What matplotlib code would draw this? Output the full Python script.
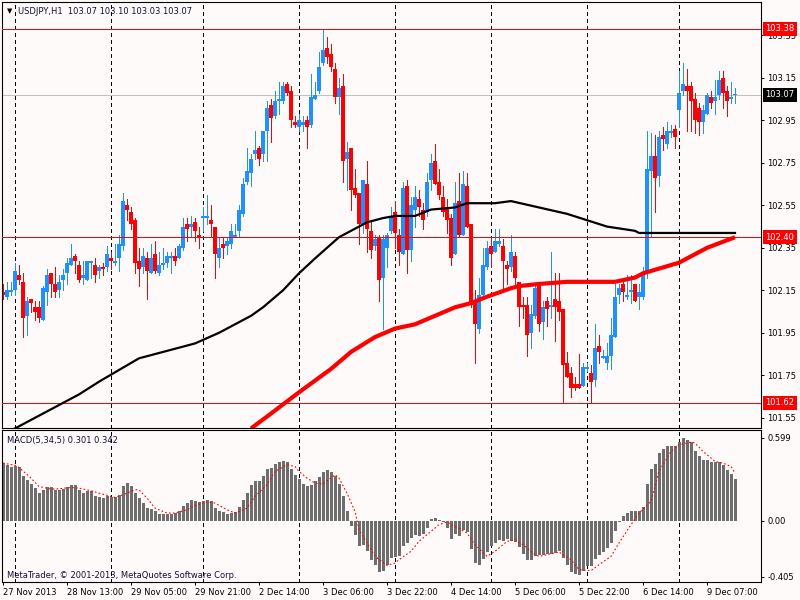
import numpy as np
import matplotlib
matplotlib.use('Agg')
import matplotlib.pyplot as plt

plt.rcParams['font.family'] = ['DejaVu Sans']

# USDJPY H1 candles, bar 0 = 27 Nov 2013 21:00
opens = [102.14, 102.12, 102.14, 102.15, 102.22, 102.19, 102.03, 102.11, 102.07, 102.07,
         102.01, 102.14, 102.23, 102.18, 102.15, 102.20, 102.23, 102.27, 102.31, 102.27,
         102.21, 102.20, 102.28, 102.27, 102.24, 102.26, 102.26, 102.30, 102.28, 102.30,
         102.36, 102.55, 102.52, 102.48, 102.29, 102.26, 102.30, 102.23, 102.32, 102.23,
         102.27, 102.28, 102.30, 102.31, 102.30, 102.35, 102.46, 102.45, 102.47, 102.41,
         102.49, 102.49, 102.48, 102.45, 102.30, 102.37, 102.36, 102.37, 102.40, 102.43,
         102.51, 102.66, 102.70, 102.79, 102.82, 102.79, 102.90, 103.02, 102.97, 103.04,
         103.04, 103.12, 103.09, 102.94, 102.92, 102.93, 102.95, 102.93, 103.05, 103.09,
         103.22, 103.29, 103.26, 103.19, 103.06, 103.11, 102.77, 102.82, 102.63, 102.61,
         102.46, 102.65, 102.43, 102.36, 102.40, 102.21, 102.35, 102.43, 102.52, 102.41,
         102.32, 102.64, 102.34, 102.53, 102.58, 102.53, 102.52, 102.67, 102.76, 102.66,
         102.59, 102.54, 102.49, 102.32, 102.57, 102.41, 102.64, 102.46, 102.10, 101.97,
         102.13, 102.26, 102.36, 102.33, 102.37, 102.36, 102.27, 102.26, 102.31, 102.19,
         102.08, 102.08, 101.95, 102.03, 102.18, 102.00, 102.10, 102.07, 102.11, 102.10,
         102.06, 101.81, 101.76, 101.71, 101.71, 101.70, 101.78, 101.76, 101.73, 101.89,
         101.83, 101.81, 101.84, 101.93, 102.13, 102.18, 102.12, 102.14, 102.18, 102.12,
         102.12, 102.23, 102.71, 102.78, 102.69, 102.88, 102.84, 102.89, 102.91, 103.00,
         103.09, 103.11, 103.11, 103.05, 103.01, 102.94, 102.98, 103.06, 103.04, 103.07,
         103.15, 103.09, 103.05, 103.07]
highs = [102.18, 102.19, 102.19, 102.28, 102.27, 102.23, 102.12, 102.11, 102.10, 102.10,
         102.17, 102.25, 102.23, 102.26, 102.22, 102.25, 102.30, 102.37, 102.32, 102.29,
         102.29, 102.29, 102.29, 102.30, 102.27, 102.28, 102.36, 102.33, 102.37, 102.41,
         102.61, 102.58, 102.54, 102.49, 102.35, 102.35, 102.33, 102.37, 102.38, 102.33,
         102.35, 102.33, 102.33, 102.35, 102.37, 102.49, 102.49, 102.50, 102.49, 102.45,
         102.54, 102.60, 102.55, 102.45, 102.40, 102.40, 102.40, 102.46, 102.46, 102.55,
         102.68, 102.82, 102.79, 102.90, 102.83, 102.90, 103.04, 103.05, 103.09, 103.13,
         103.13, 103.13, 103.11, 102.97, 102.98, 102.97, 102.97, 103.17, 103.13, 103.27,
         103.38, 103.34, 103.31, 103.22, 103.15, 103.17, 102.85, 102.82, 102.72, 102.61,
         102.67, 102.76, 102.48, 102.41, 102.41, 102.41, 102.42, 102.54, 102.57, 102.44,
         102.66, 102.67, 102.59, 102.64, 102.62, 102.56, 102.70, 102.79, 102.84, 102.72,
         102.64, 102.58, 102.51, 102.66, 102.70, 102.71, 102.70, 102.46, 102.15, 102.21,
         102.35, 102.38, 102.40, 102.44, 102.44, 102.39, 102.29, 102.41, 102.33, 102.19,
         102.12, 102.12, 102.08, 102.18, 102.18, 102.10, 102.12, 102.33, 102.23, 102.23,
         102.06, 101.86, 101.79, 101.74, 101.85, 101.81, 101.81, 101.80, 101.99, 101.94,
         101.87, 101.90, 102.02, 102.18, 102.18, 102.21, 102.22, 102.22, 102.18, 102.18,
         102.26, 102.90, 102.89, 102.88, 102.90, 102.92, 102.94, 102.93, 102.93, 103.18,
         103.22, 103.19, 103.13, 103.08, 103.03, 103.02, 103.08, 103.09, 103.14, 103.18,
         103.18, 103.11, 103.13, 103.10]
lows = [102.11, 102.11, 102.13, 102.13, 102.18, 101.93, 101.94, 102.05, 102.01, 102.00,
        102.01, 102.08, 102.12, 102.12, 102.12, 102.15, 102.18, 102.27, 102.23, 102.19,
        102.18, 102.20, 102.21, 102.19, 102.21, 102.22, 102.24, 102.25, 102.27, 102.24,
        102.34, 102.48, 102.44, 102.23, 102.17, 102.23, 102.11, 102.23, 102.23, 102.22,
        102.25, 102.26, 102.23, 102.27, 102.30, 102.34, 102.38, 102.40, 102.38, 102.35,
        102.43, 102.46, 102.40, 102.21, 102.26, 102.30, 102.32, 102.35, 102.40, 102.40,
        102.50, 102.65, 102.64, 102.77, 102.74, 102.76, 102.76, 102.85, 102.96, 102.98,
        103.03, 103.07, 102.92, 102.92, 102.90, 102.90, 102.82, 102.92, 103.05, 103.08,
        103.21, 103.22, 103.18, 103.03, 102.98, 102.66, 102.62, 102.53, 102.59, 102.37,
        102.42, 102.33, 102.30, 102.34, 102.10, 101.97, 102.26, 102.42, 102.35, 102.27,
        102.32, 102.23, 102.29, 102.45, 102.50, 102.44, 102.50, 102.62, 102.65, 102.58,
        102.50, 102.42, 102.27, 102.32, 102.40, 102.41, 102.45, 102.07, 101.81, 101.95,
        102.13, 102.25, 102.26, 102.33, 102.36, 102.16, 102.18, 102.24, 102.18, 101.98,
        102.02, 101.84, 101.88, 102.02, 101.96, 101.92, 101.98, 102.02, 101.91, 102.01,
        101.62, 101.74, 101.65, 101.68, 101.69, 101.70, 101.77, 101.62, 101.70, 101.81,
        101.83, 101.78, 101.78, 101.93, 102.09, 102.10, 102.11, 102.09, 102.10, 102.06,
        102.11, 102.21, 102.40, 102.52, 102.64, 102.81, 102.82, 102.87, 102.82, 102.92,
        103.07, 102.90, 102.90, 102.89, 102.88, 102.89, 102.98, 103.01, 102.98, 103.05,
        103.01, 102.97, 103.03, 103.03]
closes = [102.13, 102.15, 102.15, 102.24, 102.20, 102.02, 102.10, 102.09, 102.05, 102.02,
          102.16, 102.22, 102.18, 102.14, 102.19, 102.22, 102.28, 102.30, 102.29, 102.20,
          102.22, 102.29, 102.29, 102.22, 102.26, 102.25, 102.32, 102.29, 102.29, 102.37,
          102.57, 102.53, 102.46, 102.28, 102.25, 102.31, 102.24, 102.30, 102.24, 102.27,
          102.28, 102.31, 102.31, 102.29, 102.36, 102.45, 102.44, 102.46, 102.43, 102.40,
          102.50, 102.50, 102.46, 102.32, 102.35, 102.35, 102.38, 102.43, 102.41, 102.53,
          102.65, 102.71, 102.77, 102.81, 102.77, 102.90, 103.01, 102.96, 103.04, 103.05,
          103.11, 103.08, 102.95, 102.93, 102.95, 102.94, 102.92, 103.06, 103.07, 103.20,
          103.28, 103.25, 103.20, 103.06, 103.10, 102.76, 102.80, 102.62, 102.60, 102.46,
          102.67, 102.44, 102.34, 102.39, 102.20, 102.39, 102.41, 102.50, 102.42, 102.33,
          102.63, 102.34, 102.55, 102.59, 102.54, 102.48, 102.66, 102.75, 102.65, 102.60,
          102.52, 102.48, 102.30, 102.56, 102.41, 102.65, 102.45, 102.08, 101.99, 102.13,
          102.27, 102.35, 102.32, 102.38, 102.38, 102.29, 102.25, 102.33, 102.21, 102.07,
          102.07, 101.94, 102.04, 102.16, 101.99, 102.07, 102.06, 102.08, 102.07, 102.05,
          101.80, 101.74, 101.69, 101.69, 101.69, 101.79, 101.79, 101.72, 101.88, 101.86,
          101.84, 101.84, 101.94, 102.12, 102.16, 102.14, 102.13, 102.15, 102.10, 102.14,
          102.23, 102.72, 102.78, 102.68, 102.87, 102.86, 102.90, 102.90, 102.87, 103.08,
          103.12, 103.09, 103.04, 102.95, 102.94, 103.00, 103.07, 103.03, 103.06, 103.14,
          103.08, 103.04, 103.06, 103.07]

# moving averages (bar index, price)
ma_black_bars = [0, 3, 15, 19, 24, 34, 40, 48, 54, 59, 62, 65, 70, 74, 78, 84, 87, 91, 95,
                 98, 103, 107, 113, 116, 123, 127, 134, 141, 146, 151, 158, 159, 180, 183]
ma_black = [101.47, 101.50, 101.62, 101.66, 101.72, 101.83, 101.86, 101.90, 101.95, 102.00,
            102.03, 102.07, 102.15, 102.23, 102.30, 102.40, 102.43, 102.47, 102.49, 102.50,
            102.50, 102.53, 102.54, 102.56, 102.56, 102.57, 102.54, 102.51, 102.48, 102.45,
            102.43, 102.42, 102.42, 102.42]
ma_red_bars = [62, 67, 74, 82, 87, 93, 98, 103, 108, 113, 117, 121, 127, 129, 134, 141,
               149, 153, 158, 160, 169, 176, 183]
ma_red = [101.50, 101.57, 101.67, 101.78, 101.86, 101.93, 101.97, 101.99, 102.03, 102.07,
          102.09, 102.12, 102.16, 102.17, 102.18, 102.19, 102.19, 102.19, 102.21, 102.23,
          102.28, 102.35, 102.40]

# MACD(5,34,5) histogram and signal
macd = [0.416, 0.404, 0.387, 0.391, 0.384, 0.324, 0.295, 0.264, 0.235, 0.199,
        0.223, 0.240, 0.240, 0.223, 0.223, 0.230, 0.240, 0.254, 0.254, 0.223,
        0.199, 0.211, 0.211, 0.175, 0.168, 0.163, 0.175, 0.168, 0.168, 0.187,
        0.247, 0.271, 0.247, 0.199, 0.163, 0.127, 0.091, 0.086, 0.067, 0.048,
        0.048, 0.048, 0.048, 0.055, 0.072, 0.108, 0.127, 0.147, 0.144, 0.135,
        0.139, 0.152, 0.144, 0.091, 0.072, 0.063, 0.048, 0.055, 0.063, 0.099,
        0.152, 0.199, 0.254, 0.288, 0.288, 0.324, 0.372, 0.379, 0.408, 0.420,
        0.432, 0.423, 0.375, 0.331, 0.302, 0.264, 0.247, 0.259, 0.283, 0.314,
        0.350, 0.362, 0.350, 0.324, 0.264, 0.175, 0.072, -0.036, -0.101, -0.185,
        -0.178, -0.221, -0.286, -0.317, -0.372, -0.360, -0.317, -0.269, -0.264, -0.257,
        -0.185, -0.161, -0.125, -0.106, -0.113, -0.096, -0.053, 0.014, 0.019, 0.005,
        -0.010, -0.053, -0.130, -0.096, -0.113, -0.065, -0.082, -0.202, -0.305, -0.317,
        -0.277, -0.226, -0.185, -0.161, -0.137, -0.149, -0.130, -0.144, -0.154, -0.192,
        -0.238, -0.286, -0.286, -0.257, -0.250, -0.245, -0.240, -0.238, -0.233, -0.221,
        -0.269, -0.317, -0.370, -0.385, -0.394, -0.365, -0.329, -0.329, -0.274, -0.245,
        -0.226, -0.197, -0.161, -0.077, -0.010, 0.036, 0.055, 0.072, 0.067, 0.067,
        0.099, 0.264, 0.375, 0.411, 0.488, 0.517, 0.537, 0.541, 0.541, 0.568,
        0.597, 0.585, 0.568, 0.505, 0.464, 0.440, 0.440, 0.420, 0.420, 0.420,
        0.404, 0.362, 0.339, 0.301]
sig_bars = [0, 3, 4, 7, 9, 12, 14, 17, 19, 22, 24, 27, 28, 30, 33, 34, 36, 38, 41, 43,
            46, 48, 51, 53, 56, 58, 61, 63, 66, 68, 71, 73, 74, 76, 78, 80, 83, 84, 86, 88,
            89, 91, 93, 96, 98, 99, 102, 104, 107, 109, 111, 113, 116, 118, 121, 123, 126,
            128, 130, 133, 134, 137, 139, 142, 144, 147, 149, 152, 154, 157, 159, 162, 164,
            167, 169, 172, 173, 175, 178, 180, 182, 183]
sig_vals = [0.415, 0.400, 0.384, 0.307, 0.247, 0.228, 0.230, 0.240, 0.235, 0.216, 0.199,
            0.175, 0.168, 0.187, 0.223, 0.223, 0.163, 0.091, 0.055, 0.055, 0.079, 0.110,
            0.134, 0.127, 0.079, 0.055, 0.091, 0.175, 0.259, 0.355, 0.403, 0.391, 0.355,
            0.307, 0.271, 0.264, 0.331, 0.307, 0.199, 0.067, -0.065, -0.161, -0.257,
            -0.322, -0.305, -0.281, -0.221, -0.149, -0.077, -0.029, -0.010, -0.041,
            -0.089, -0.173, -0.257, -0.221, -0.149, -0.137, -0.173, -0.245, -0.257,
            -0.238, -0.226, -0.281, -0.353, -0.360, -0.317, -0.257, -0.161, -0.029,
            0.055, 0.139, 0.355, 0.500, 0.547, 0.567, 0.560, 0.500, 0.427, 0.415, 0.391,
            0.342]

separators = [3, 27, 50, 74, 98, 122, 146, 169]
time_ticks = [0, 16, 32, 48, 64, 80, 96, 112, 128, 144, 160, 176]
time_labels = ['27 Nov 2013', '28 Nov 13:00', '29 Nov 05:00', '29 Nov 21:00',
               '2 Dec 14:00', '3 Dec 06:00', '3 Dec 22:00', '4 Dec 14:00',
               '5 Dec 06:00', '5 Dec 22:00', '6 Dec 14:00', '9 Dec 07:00']
price_ticks = [103.35, 103.15, 102.95, 102.75, 102.55, 102.35, 102.15, 101.95, 101.75, 101.55]
red_levels = [103.38, 102.40, 101.62]
bid = 103.07
macd_ticks = [0.599, 0.0, -0.405]
macd_tick_labels = ['0.599', '0.00', '-0.405']

bg = '#FFFAFA'
fs = 6
px = 0.72  # one pixel at 100 dpi, in points

fig = plt.figure(figsize=(8, 6), dpi=100, facecolor=bg)
ax = fig.add_axes([2/800, 1 - 428/600, 759/800, 426/600], facecolor=bg)
ax2 = fig.add_axes([2/800, 1 - 582/600, 759/800, 152/600], facecolor=bg)

x = np.arange(len(closes))
o = np.array(opens)
c = np.array(closes)
up = c >= o
cols = np.where(up, '#1E90FF', '#FF0000')

ax.vlines(x, lows, highs, colors=cols, lw=px, zorder=2, antialiased=False)
body = np.maximum(np.abs(c - o), 0.005)
ax.bar(x, body, bottom=np.minimum(o, c), width=0.8, color=cols, lw=0, zorder=2,
       antialiased=False)

for s in separators:
    ax.axvline(s, color='black', lw=px, ls=(0, (4, 4)), zorder=1, antialiased=False)
    ax2.axvline(s, color='black', lw=px, ls=(0, (4, 4)), zorder=1, antialiased=False)

ax.axhline(bid, color='#C0C0C0', lw=px, zorder=1, antialiased=False)
for lv in red_levels:
    ax.axhline(lv, color='red', lw=px, zorder=3, antialiased=False)

ax.plot(ma_black_bars, ma_black, color='black', lw=1.6, zorder=4)
ax.plot(ma_red_bars, ma_red, color='red', lw=3, zorder=4, solid_capstyle='butt')

ax.set_xlim(-0.25, 189.5)
ax.set_ylim(101.502, 103.507)
ax.set_xticks([])
ax.yaxis.tick_right()
ax.set_yticks(price_ticks)
ax.set_yticklabels([f'{v:.2f}' for v in price_ticks])
ax.tick_params(axis='y', direction='out', length=2.5, width=px, pad=2, labelsize=fs)

ytr = ax.get_yaxis_transform()
for lv in red_levels:
    ax.text(1.006, lv, f'{lv:.2f}', transform=ytr, ha='left', va='center', color='white',
            fontsize=fs, clip_on=False, zorder=10,
            bbox=dict(boxstyle='square,pad=0.3', fc='red', ec='none'))
ax.text(1.006, bid, f'{bid:.2f}', transform=ytr, ha='left', va='center', color='white',
        fontsize=fs, clip_on=False, zorder=10,
        bbox=dict(boxstyle='square,pad=0.3', fc='black', ec='none'))

fig.text(7/800, 1 - 11/600, '\u25bc', fontsize=5, va='center', ha='left')
fig.text(18/800, 1 - 11/600, 'USDJPY,H1  103.07 103.10 103.03 103.07',
         fontsize=fs, va='center', ha='left', color='#101030')

# MACD panel
ax2.bar(x, macd, width=0.75, color='#6E6E6E', lw=0, zorder=2, antialiased=False)
ax2.plot(sig_bars, sig_vals, color='red', lw=0.8, ls=(0, (1.5, 2)), zorder=3)
ax2.set_xlim(-0.25, 189.5)
ax2.set_ylim(-0.442, 0.654)
ax2.yaxis.tick_right()
ax2.set_yticks(macd_ticks)
ax2.set_yticklabels(macd_tick_labels)
ax2.set_xticks(time_ticks)
ax2.set_xticklabels(time_labels)
for lab in ax2.get_xticklabels():
    lab.set_ha('left')
ax2.tick_params(axis='both', direction='out', length=2.5, width=px, pad=2, labelsize=fs)

fig.text(7/800, 1 - 440/600, 'MACD(5,34,5) 0.301 0.342', fontsize=fs, va='center',
         ha='left', color='#101030')
fig.text(7/800, 1 - 575/600, 'MetaTrader, \u00a9 2001-2013, MetaQuotes Software Corp.',
         fontsize=fs, va='center', ha='left', color='#101030')

for a in (ax, ax2):
    for sp in a.spines.values():
        sp.set_linewidth(0.8)
        sp.set_color('black')

fig.savefig('out.png', dpi=100, facecolor=bg)
